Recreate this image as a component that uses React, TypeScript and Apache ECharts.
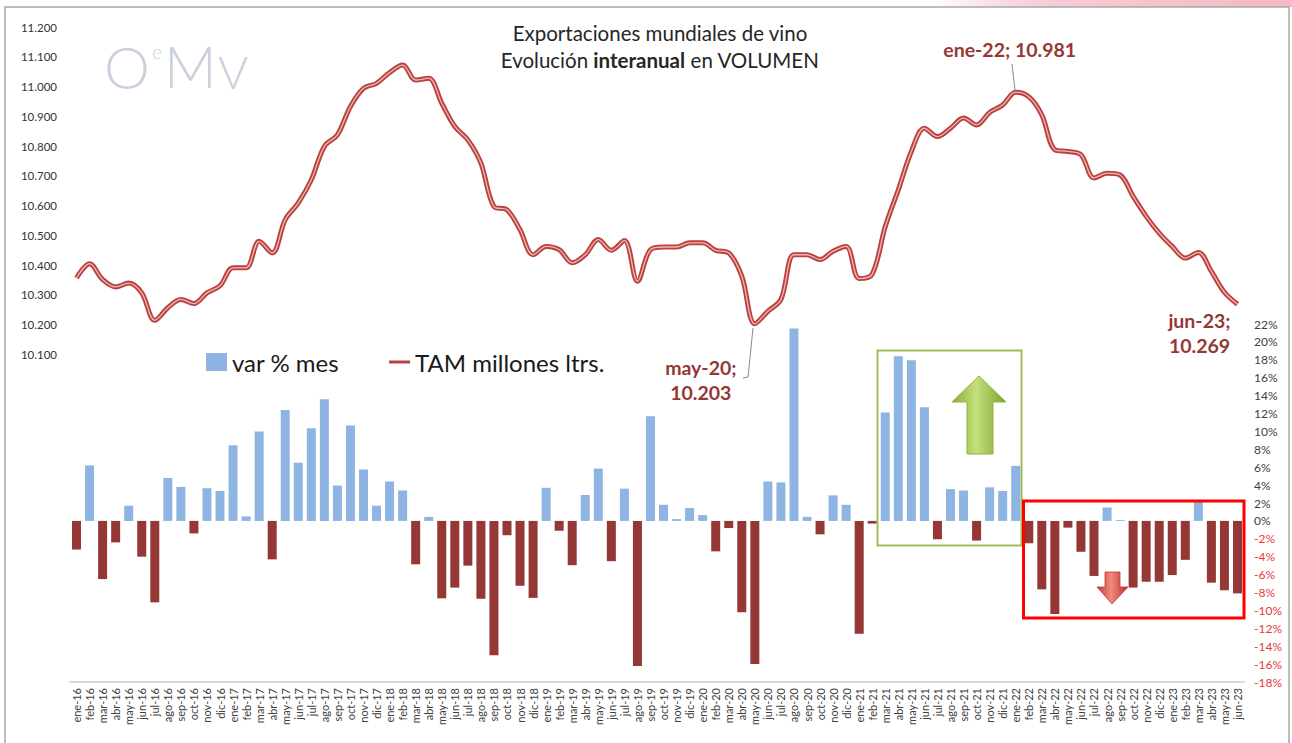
import React, { useEffect, useRef } from "react";
import * as echarts from "echarts";

const MONTHS = ["ene", "feb", "mar", "abr", "may", "jun", "jul", "ago", "sep", "oct", "nov", "dic"];
const YEARS = ["16", "17", "18", "19", "20", "21", "22", "23"];
const CATEGORIES: string[] = [];
YEARS.forEach((y) => MONTHS.forEach((m) => CATEGORIES.push(`${m}-${y}`)));
CATEGORIES.splice(90);

// var % mes (right axis)
const VAR_MES = [
  -3.2, 6.2, -6.5, -2.4, 1.7, -4.0, -9.1, 4.8, 3.8, -1.4, 3.65, 3.35,
  8.45, 0.5, 10.0, -4.3, 12.4, 6.5, 10.35, 13.6, 3.95, 10.65, 5.75, 1.7,
  4.4, 3.4, -4.85, 0.45, -8.65, -7.45, -5.0, -8.7, -15.0, -1.6, -7.25, -8.6,
  3.7, -1.1, -4.95, 2.9, 5.85, -4.5, 3.6, -16.2, 11.7, 1.8, 0.2, 1.45,
  0.65, -3.4, -0.8, -10.2, -16.0, 4.4, 4.3, 21.5, 0.45, -1.5, 2.85, 1.8,
  -12.6, -0.3, 12.1, 18.4, 17.95, 12.7, -2.05, 3.55, 3.4, -2.2, 3.75, 3.35,
  6.15, -2.5, -7.65, -10.4, -0.75, -3.45, -6.15, 1.5, 0.1, -7.45, -6.8, -6.8,
  -6.05, -4.35, 2.1, -6.9, -7.75, -8.1,
];

// TAM millones ltrs. (left axis)
const TAM = [
  10357, 10405, 10352, 10327, 10340, 10307, 10215, 10257, 10285, 10271, 10307, 10331,
  10391, 10391, 10480, 10441, 10553, 10609, 10687, 10799, 10838, 10933, 10994, 11011,
  11047, 11072, 11022, 11028, 10944, 10866, 10821, 10743, 10597, 10586, 10519, 10435,
  10463, 10452, 10408, 10435, 10486, 10450, 10483, 10346, 10452, 10461, 10461, 10475,
  10475, 10450, 10441, 10363, 10203, 10245, 10285, 10435, 10435, 10419, 10447, 10463,
  10355, 10370, 10530, 10653, 10782, 10860, 10832, 10860, 10894, 10871, 10913, 10938,
  10981, 10966, 10905, 10788, 10782, 10771, 10693, 10709, 10703, 10631, 10564, 10508,
  10463, 10424, 10443, 10379, 10309, 10269,
];

const LEFT_MIN = 9000;
const LEFT_MAX = 11200;
const LEFT_STEP = 100;
const LEFT_LABEL_FROM = 10100;
const RIGHT_MIN = -18;
const RIGHT_MAX = 22;
const RIGHT_STEP = 2;

const ANNOTATED = ["ene-22", "may-20", "jun-23"];

const BLUE = "#8DB4E2";
const DARKRED = "#953735";
const LINE_OUT = "#b8423f";
const LINE_IN = "#f1b5b3";
const FONT = "Lato, 'Open Sans', sans-serif";

const fmtThousands = (v: number) => (v / 1000).toFixed(3);

export default function App() {
  const ref = useRef<HTMLDivElement>(null);

  useEffect(() => {
    if (!ref.current) return;
    const chart = echarts.init(ref.current, null, { renderer: "svg" });

    const offsets: Record<string, number[]> = {
      "ene-22": [-6, -43],
      "may-20": [-54, 56],
      "jun-23": [-38, 29],
    };
    const annotationData = ANNOTATED.map((c) => {
      const i = CATEGORIES.indexOf(c);
      const txt = `${c};${c === "ene-22" ? " " : "\n"}${fmtThousands(TAM[i])}`;
      return {
        coord: [c, TAM[i]],
        label: { formatter: txt, offset: offsets[c] },
      };
    });

    const option: any = {
      animation: false,
      backgroundColor: "#ffffff",
      textStyle: { fontFamily: FONT },
      grid: [
        { left: 70, right: 48, top: 27, bottom: 61 },
        { left: 70, right: 48, top: 324, bottom: 61 },
      ],
      xAxis: [
        {
          type: "category",
          gridIndex: 0,
          data: CATEGORIES,
          boundaryGap: true,
          axisLine: { show: true, lineStyle: { color: "#d9d9d9", width: 2 } },
          axisTick: { show: false },
          axisLabel: {
            interval: 0,
            rotate: 90,
            fontSize: 11,
            color: "#404040",
            fontFamily: FONT,
            margin: 6,
          },
        },
        {
          type: "category",
          gridIndex: 1,
          data: CATEGORIES,
          boundaryGap: true,
          show: false,
        },
      ],
      yAxis: [
        {
          type: "value",
          gridIndex: 0,
          min: LEFT_MIN,
          max: LEFT_MAX,
          interval: LEFT_STEP,
          splitLine: { show: false },
          axisLine: { show: false },
          axisTick: { show: false },
          axisLabel: {
            fontSize: 11.5,
            color: "#333333",
            margin: 13,
            fontFamily: FONT,
            formatter: (v: number) => (v >= LEFT_LABEL_FROM ? fmtThousands(v) : ""),
          },
        },
        {
          type: "value",
          gridIndex: 1,
          position: "right",
          min: RIGHT_MIN,
          max: RIGHT_MAX,
          interval: RIGHT_STEP,
          splitLine: { show: false },
          axisLine: { show: false },
          axisTick: { show: false },
          axisLabel: {
            fontSize: 12,
            margin: 10,
            fontFamily: FONT,
            formatter: (v: number) => `${v}%`,
            color: (v: any) => (Number(v) < 0 ? "#e8383d" : "#404040"),
          },
        },
      ],
      legend: {
        left: 201,
        top: 345,
        itemGap: 50,
        itemWidth: 21,
        itemHeight: 18,
        textStyle: { fontSize: 24, color: "#1a1a1a", fontFamily: FONT },
        data: [
          { name: "var % mes", icon: "rect", itemStyle: { color: BLUE } },
          {
            name: "TAM millones ltrs.",
            icon: "path://M0,0L0.01,0ZM0,7.5L22,7.5L22,10.5L0,10.5ZM0,18L0.01,18Z",
            itemStyle: { color: LINE_OUT },
          },
        ],
      },
      series: [
        {
          name: "var % mes",
          type: "bar",
          xAxisIndex: 1,
          yAxisIndex: 1,
          data: VAR_MES,
          barWidth: "69%",
          itemStyle: {
            color: (p: any) => (p.value >= 0 ? BLUE : DARKRED),
          },
          z: 2,
        },
        {
          name: "TAM millones ltrs.",
          type: "line",
          xAxisIndex: 0,
          yAxisIndex: 0,
          data: TAM,
          smooth: 0.35,
          symbol: "none",
          showSymbol: false,
          lineStyle: { color: LINE_OUT, width: 5 },
          itemStyle: { color: LINE_OUT },
          z: 5,
        },
        {
          name: "TAM inner",
          type: "line",
          xAxisIndex: 0,
          yAxisIndex: 0,
          data: TAM,
          smooth: 0.35,
          symbol: "none",
          showSymbol: false,
          silent: true,
          lineStyle: { color: LINE_IN, width: 1.3 },
          z: 6,
          markPoint: {
            symbol: "circle",
            symbolSize: 1,
            itemStyle: { color: "rgba(0,0,0,0)" },
            label: {
              show: true,
              color: DARKRED,
              fontWeight: "bold",
              fontSize: 19.5,
              lineHeight: 25,
              align: "center",
              fontFamily: FONT,
            },
            data: annotationData,
          },
        },
      ],
      graphic: [
        {
          type: "rect",
          z: -10,
          shape: { x: 930, y: 0, width: 362, height: 7 },
          style: {
            fill: new echarts.graphic.LinearGradient(0, 0, 1, 0, [
              { offset: 0, color: "rgba(247,198,208,0)" },
              { offset: 0.3, color: "#f7cdd6" },
              { offset: 1, color: "#f4b8c6" },
            ]),
          },
        },
        {
          type: "rect",
          z: -5,
          shape: { x: 5, y: 7, width: 1284, height: 745 },
          style: { fill: "none", stroke: "#a8a8a8", lineWidth: 1.5 },
        },
        // title
        {
          type: "text",
          x: 660,
          y: 19,
          style: {
            text: "Exportaciones mundiales de vino\nEvolución {b|interanual} en VOLUMEN",
            align: "center",
            font: `20.5px ${FONT}`,
            fill: "#262626",
            lineHeight: 27,
            rich: {
              b: { fontWeight: "bold", fontSize: 20.5, fill: "#262626", fontFamily: FONT },
            },
          },
        },
        // watermark OeMv
        {
          type: "group",
          children: [
            { type: "text", x: 104, y: 37, style: { text: "O", font: `300 58px ${FONT}`, fill: "#c9d1dc" } },
            { type: "text", x: 152, y: 42, style: { text: "e", font: `300 19px ${FONT}`, fill: "#c9d1dc" } },
            { type: "text", x: 164, y: 36, style: { text: "M", font: `300 58px ${FONT}`, fill: "#c9d1dc" } },
            { type: "text", x: 218, y: 48, style: { text: "V", font: `300 46px ${FONT}`, fill: "#c9d1dc" } },
          ],
        },
        // leader lines
        {
          type: "line",
          z: 10,
          shape: { x1: 1012, y1: 64, x2: 1015, y2: 90 },
          style: { stroke: "#8a8a8a", lineWidth: 1 },
        },
        {
          type: "polyline",
          z: 10,
          shape: { points: [[753, 328], [748, 377], [743, 378]] },
          style: { stroke: "#8a8a8a", lineWidth: 1, fill: "none" },
        },
        // green box
        {
          type: "rect",
          z: 20,
          shape: { x: 877.5, y: 350.5, width: 144, height: 195 },
          style: { fill: "none", stroke: "#9bbb59", lineWidth: 2 },
        },
        {
          type: "polygon",
          z: 21,
          shape: {
            points: [[979, 376], [1006, 402], [993, 402], [993, 454], [967, 454], [967, 402], [952, 402]],
          },
          style: {
            fill: new echarts.graphic.LinearGradient(0, 0, 1, 0, [
              { offset: 0, color: "#86ad36" },
              { offset: 0.45, color: "#c6e07c" },
              { offset: 1, color: "#7aa22c" },
            ]),
            stroke: "#8fb33e",
            lineWidth: 1,
          },
        },
        // red box
        {
          type: "rect",
          z: 20,
          shape: { x: 1023.5, y: 501, width: 220.5, height: 117 },
          style: { fill: "none", stroke: "#ff0000", lineWidth: 3 },
        },
        {
          type: "polygon",
          z: 21,
          shape: {
            points: [[1105, 572], [1120, 572], [1120, 587], [1128, 587], [1112, 604], [1097, 587], [1105, 587]],
          },
          style: {
            fill: new echarts.graphic.LinearGradient(0, 0, 1, 0, [
              { offset: 0, color: "#c83a32" },
              { offset: 0.45, color: "#f08a80" },
              { offset: 1, color: "#b8302a" },
            ]),
            stroke: "#c0392b",
            lineWidth: 0.8,
          },
        },
      ],
    };

    chart.setOption(option);
    return () => chart.dispose();
  }, []);

  return (
    <div
      ref={ref}
      style={{ position: "absolute", left: 0, top: 0, width: 1292, height: 743, background: "#fff" }}
    />
  );
}
